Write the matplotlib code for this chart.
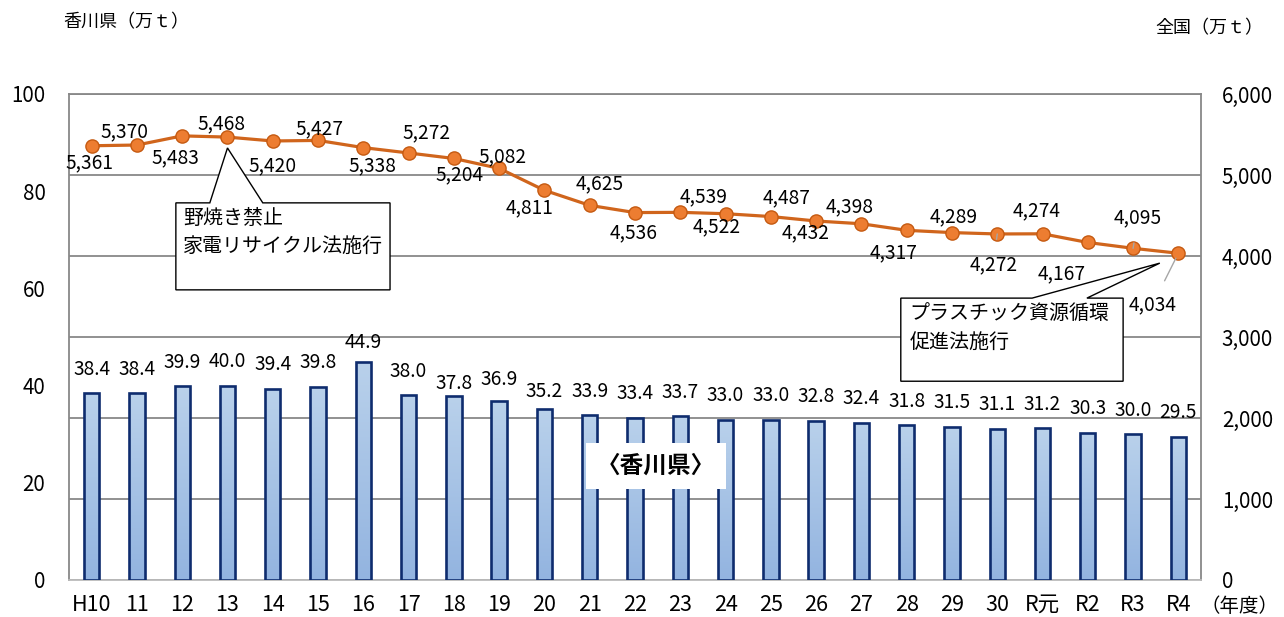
import numpy as np
import matplotlib.pyplot as plt
from matplotlib.patches import Polygon
from matplotlib.colors import LinearSegmentedColormap

plt.rcParams['font.family'] = ['Noto Sans CJK JP', 'DejaVu Sans']

years = ["H10", "11", "12", "13", "14", "15", "16", "17", "18", "19", "20",
         "21", "22", "23", "24", "25", "26", "27", "28", "29", "30",
         "R元", "R2", "R3", "R4"]
kagawa = [38.4, 38.4, 39.9, 40.0, 39.4, 39.8, 44.9, 38.0, 37.8, 36.9, 35.2,
          33.9, 33.4, 33.7, 33.0, 33.0, 32.8, 32.4, 31.8, 31.5, 31.1,
          31.2, 30.3, 30.0, 29.5]
zenkoku = [5361, 5370, 5483, 5468, 5420, 5427, 5338, 5272, 5204, 5082, 4811,
           4625, 4536, 4539, 4522, 4487, 4432, 4398, 4317, 4289, 4272,
           4274, 4167, 4095, 4034]

# label offsets in pixels (dx, dy up)
line_off = [(-2, -17), (-12, 13), (-7, -22), (-6, 13), (0, -25), (1, 12),
            (9, -18), (18, 20), (6, -16), (3, 12), (-15, -17), (10, 22),
            (-1, -20), (23, 16), (-9, -13), (16, 19), (-10, -12), (-12, 17),
            (-13, -22), (2, 16), (-4, -31), (-6, 23), (-26, -31), (5, 31),
            (-26, -52)]
leader = {20, 23, 24}
bar_dy = {6: 19, 8: 13, 9: 21, 10: 17}

x = np.arange(len(years))
grid_c = '#888888'
fs = 13.8

fig = plt.figure(figsize=(12.84, 6.17), dpi=100)
ax = fig.add_axes([69/1284, 37/617, 1132/1284, 486/617])
ax2 = ax.twinx()

# national line (right axis, carries the grid)
ax.set_ylim(0, 6000)
ax.set_xlim(-0.5, len(years) - 0.5)
ax.set_yticks(np.arange(0, 6001, 1000))
ax.set_yticklabels([f"{v:,}" for v in range(0, 6001, 1000)])
ax.yaxis.tick_right()
ax.yaxis.grid(True, color=grid_c, lw=1.3)
ax.set_axisbelow(True)
ax.tick_params(axis='y', length=0, pad=15, labelsize=14.8)
ax.tick_params(axis='x', length=0, pad=10, labelsize=15.5)
ax.set_xticks(x)
ax.set_xticklabels(years)
for s in ax.spines.values():
    s.set_color(grid_c)
    s.set_linewidth(1.3)
ax.spines['bottom'].set_color('#bbbbbb')

ax.plot(x, zenkoku, color='#d0651c', lw=2.3, marker='o', ms=9.5,
        mfc='#ed7d31', mec='#c55a11', mew=1, zorder=3)
for i, v in enumerate(zenkoku):
    dx, dy = line_off[i]
    if i in leader:
        ax.annotate(f"{v:,}", xy=(i, v), xytext=(dx, dy), textcoords='offset pixels',
                    ha='center', va='center', fontsize=fs,
                    arrowprops=dict(arrowstyle='-', color='#a6a6a6', lw=1,
                                    shrinkA=9, shrinkB=4))
    else:
        ax.annotate(f"{v:,}", xy=(i, v), xytext=(dx, dy), textcoords='offset pixels',
                    ha='center', va='center', fontsize=fs)

# Kagawa bars (left axis)
ax2.set_ylim(0, 100)
ax2.set_xlim(-0.5, len(years) - 0.5)
ax2.yaxis.tick_left()
ax2.set_yticks(np.arange(0, 101, 20))
ax2.tick_params(axis='y', length=0, pad=17, labelsize=14.8)
for s in ax2.spines.values():
    s.set_visible(False)

w = 0.34
bars = ax2.bar(x, kagawa, width=w, facecolor='none', edgecolor='#0e2c6e',
               lw=1.9, zorder=4)
grad = np.linspace(0, 1, 100).reshape(-1, 1)
cmap = LinearSegmentedColormap.from_list('g', ['#b9d1eb', '#93b4e0'])
for b in bars:
    bx, bw, bh = b.get_x(), b.get_width(), b.get_height()
    im = ax2.imshow(grad, extent=[bx, bx + bw, 0, bh], aspect='auto',
                    cmap=cmap, origin='upper', zorder=3)
    im.set_clip_path(b)
ax2.set_xlim(-0.5, len(years) - 0.5)
ax2.set_ylim(0, 100)

for i, v in enumerate(kagawa):
    ax2.annotate(f"{v:.1f}", xy=(i, v), xytext=(0, bar_dy.get(i, 24)),
                 textcoords='offset pixels', ha='center', va='center',
                 fontsize=fs, zorder=5)

ax2.text(12.47, 23.5, "〈香川県〉", ha='center', va='center', fontsize=17,
         fontweight='bold', zorder=6,
         bbox=dict(facecolor='white', edgecolor='none', pad=8))

# callouts
def callout(x0, x1, yb, yt, b1, b2, tip):
    pts = [(x0, yb), (x0, yt), (b1, yt), tip, (b2, yt), (x1, yt), (x1, yb)]
    ax2.add_patch(Polygon(pts, closed=True, facecolor='white',
                          edgecolor='black', lw=1, zorder=6))

callout(1.86, 6.59, 59.7, 77.6, 2.61, 3.78, (3.0, 88.9))
ax2.text(2.02, 76.6, "野焼き禁止\n家電リサイクル法施行", ha='left', va='top',
         fontsize=14.4, linespacing=1.45, zorder=7)
callout(17.87, 22.78, 40.9, 58.0, 20.77, 21.98, (23.59, 65.2))
ax2.text(18.07, 56.9, "プラスチック資源循環\n促進法施行", ha='left', va='top',
         fontsize=14.4, linespacing=1.45, zorder=7)

fig.text(63/1284, 1 - 22/617, "香川県（万ｔ）", ha='left', va='center', fontsize=13)
fig.text(1155/1284, 1 - 28/617, "全国（万ｔ）", ha='left', va='center', fontsize=13)
fig.text(1200/1284, 1 - 606/617, "（年度）", ha='left', va='center', fontsize=14)

fig.savefig("out.png", dpi=100)
